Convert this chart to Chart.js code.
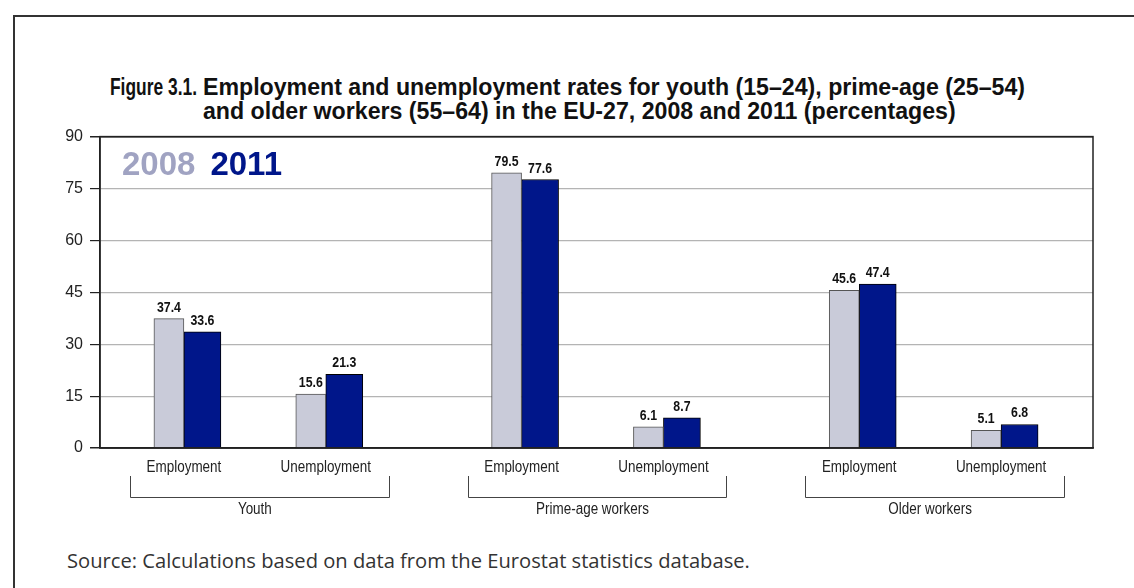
<!DOCTYPE html>
<html>
<head>
<meta charset="utf-8">
<script src="https://cdn.jsdelivr.net/npm/chart.js@4"></script>
<style>
  body { margin: 0; background: #fff; width: 1134px; height: 588px; overflow: hidden; position: relative; }
  .frame { position: absolute; left: 13px; top: 15px; right: -5px; bottom: -5px; border-top: 2px solid #333; border-left: 2px solid #333; }
  .title { position: absolute; font-family: 'Liberation Sans', Arial, sans-serif; font-weight: bold; font-size: 23px; line-height: 24px; color: #111; white-space: nowrap; transform-origin: 0 0; }
  .source { position: absolute; left: 67px; top: 546px; font-family: 'Open Sans', 'Liberation Sans', sans-serif; font-size: 17px; color: #333; white-space: nowrap; }
  #chart { position: absolute; left: 0; top: 120px; }
</style>
</head>
<body>
<div class="frame"></div>
<div class="title" id="tNum" style="left:110px; top:75px;">Figure 3.1.</div>
<div class="title" id="tLine1" style="left:203px; top:75px;">Employment and unemployment rates for youth (15–24), prime-age (25–54)</div>
<div class="title" id="tLine2" style="left:203px; top:99px;">and older workers (55–64) in the EU-27, 2008 and 2011 (percentages)</div>
<canvas id="chart" width="1134" height="420"></canvas>
<div class="source" id="source">Source: Calculations based on data from the Eurostat statistics database.</div>
<script>
// data
const groups = ['Youth', 'Prime-age workers', 'Older workers'];
const measures = ['Employment', 'Unemployment'];
const years = ['2008', '2011'];
const values2008 = [37.4, 15.6, 79.5, 6.1, 45.6, 5.1];
const values2011 = [33.6, 21.3, 77.6, 8.7, 47.4, 6.8];
const yTicks = [0, 15, 30, 45, 60, 75, 90];

const sans = "'Liberation Sans', Arial, sans-serif";
const groupGap = 196 / 142; // distance between groups, in measure widths

// squeeze the title the way the condensed original font is
(function fitText() {
    const num = document.getElementById('tNum');
    num.style.transform = 'scaleX(' + (87 / num.getBoundingClientRect().width) + ')';
    const l1 = document.getElementById('tLine1');
    const s = 822 / l1.getBoundingClientRect().width;
    l1.style.transform = 'scaleX(' + s + ')';
    document.getElementById('tLine2').style.transform = 'scaleX(' + s + ')';
    const src = document.getElementById('source');
    src.style.fontSize = (17 * 683 / src.getBoundingClientRect().width) + 'px';
})();

// x position of every bar pair: measures sit 1 apart, groups groupGap apart
const positions = [];
groups.forEach((g, gi) => measures.forEach((m, mi) => positions.push(gi * (1 + groupGap) + mi)));

const toPoints = vals => vals.map((v, i) => ({ x: positions[i], y: v }));

function narrowText(ctx, text, x, y, sx) {
    ctx.save();
    ctx.translate(x, y);
    ctx.scale(sx, 1);
    ctx.fillText(text, 0, 0);
    ctx.restore();
}

const valueLabels = {
    id: 'valueLabels',
    afterDatasetsDraw(chart) {
        const ctx = chart.ctx;
        ctx.save();
        ctx.font = 'bold 14px ' + sans;
        ctx.fillStyle = '#111';
        ctx.textAlign = 'center';
        ctx.textBaseline = 'alphabetic';
        chart.data.datasets.forEach((ds, di) => {
            chart.getDatasetMeta(di).data.forEach((bar, i) => {
                narrowText(ctx, ds.data[i].y.toFixed(1), bar.x, bar.y - 7, 0.88);
            });
        });
        ctx.restore();
    }
};

const frameAndGroups = {
    id: 'frameAndGroups',
    afterDraw(chart) {
        const ctx = chart.ctx;
        const a = chart.chartArea;
        const x = chart.scales.x;
        ctx.save();
        // box round the plot
        ctx.strokeStyle = '#222';
        ctx.lineWidth = 1.5;
        ctx.strokeRect(a.left, a.top, a.right - a.left, a.bottom - a.top);

        // measure names, brackets and group names under the axis
        ctx.lineWidth = 1;
        ctx.strokeStyle = '#444';
        ctx.fillStyle = '#222';
        ctx.font = '16px ' + sans;
        ctx.textAlign = 'center';
        ctx.textBaseline = 'middle';
        positions.forEach((p, i) => {
            narrowText(ctx, measures[i % measures.length], x.getPixelForValue(p), a.bottom + 20, 0.84);
        });
        groups.forEach((g, gi) => {
            const p0 = x.getPixelForValue(positions[gi * 2]);
            const p1 = x.getPixelForValue(positions[gi * 2 + 1]);
            const l = Math.round(p0 - 54) + 0.5;
            const r = Math.round(p1 + 63) + 0.5;
            const top = a.bottom + 28;
            const bot = a.bottom + 49.5;
            ctx.beginPath();
            ctx.moveTo(l, top);
            ctx.lineTo(l, bot);
            ctx.lineTo(r, bot);
            ctx.lineTo(r, top);
            ctx.stroke();
            narrowText(ctx, g, (p0 + p1) / 2, a.bottom + 62, 0.84);
        });

        // year key in the top left corner
        ctx.font = 'bold 33px ' + sans;
        ctx.textAlign = 'left';
        ctx.textBaseline = 'middle';
        let tx = a.left + 22;
        chart.data.datasets.forEach(ds => {
            ctx.fillStyle = ds.keyColor;
            ctx.fillText(ds.label, tx, a.top + 29);
            tx += ctx.measureText(ds.label).width + 15;
        });
        ctx.restore();
    }
};

new Chart(document.getElementById('chart'), {
    type: 'bar',
    data: {
        datasets: [
            {
                label: years[0],
                data: toPoints(values2008),
                backgroundColor: '#c9cbd9',
                borderColor: '#555',
                borderWidth: 1,
                barThickness: 30,
                keyColor: '#a0a3c2'
            },
            {
                label: years[1],
                data: toPoints(values2011),
                backgroundColor: '#00168a',
                borderColor: '#000',
                borderWidth: 1,
                barThickness: 37,
                keyColor: '#00168a'
            }
        ]
    },
    options: {
        responsive: false,
        animation: false,
        layout: { padding: { top: 10, right: 41, left: 0, bottom: 0 } },
        plugins: {
            legend: { display: false },
            tooltip: { enabled: false }
        },
        scales: {
            x: {
                type: 'linear',
                offset: false,
                min: positions[0] - 84 / 142,
                max: positions[positions.length - 1] + 92 / 142,
                grid: { display: false, drawTicks: false },
                border: { color: '#222', width: 1.5 },
                ticks: { display: false },
                afterFit: scale => { scale.height = 92; }
            },
            y: {
                min: yTicks[0],
                max: yTicks[yTicks.length - 1],
                afterBuildTicks: scale => { scale.ticks = yTicks.map(v => ({ value: v })); },
                afterFit: scale => { scale.width = 100; },
                grid: {
                    color: ctx => (ctx.tick.value === 0 || ctx.tick.value === 90) ? '#222' : '#b4b4b4',
                    lineWidth: ctx => (ctx.tick.value === 0 || ctx.tick.value === 90) ? 1.5 : 1.2,
                    tickColor: '#222',
                    tickLength: 10
                },
                border: { color: '#222', width: 1.5 },
                ticks: {
                    padding: 7,
                    color: '#222',
                    font: { family: sans, size: 16 }
                }
            }
        }
    },
    plugins: [valueLabels, frameAndGroups]
});
</script>
</body>
</html>
